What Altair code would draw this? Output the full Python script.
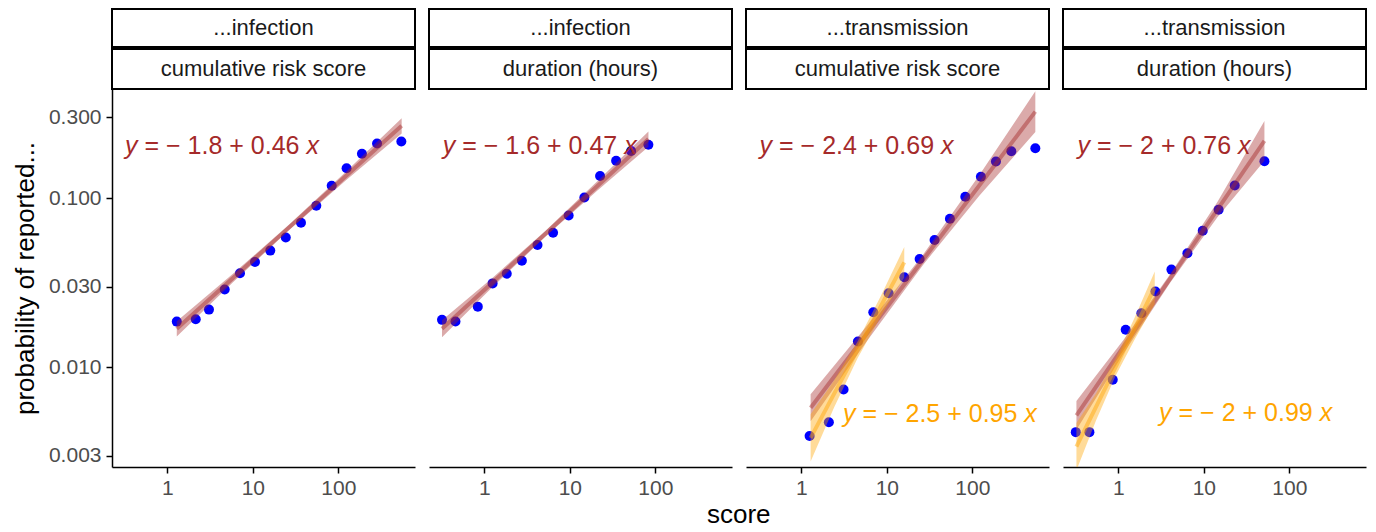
import altair as alt
import pandas as pd

FONT = "Liberation Sans"
BROWN = "#A52A2A"
ORANGE = "#FFA500"
BLUE = "#0000FF"

W = 303
H = 378

# ---- strip labels ----
strip_top = ["...infection", "...infection", "...transmission", "...transmission"]
strip_bottom = ["cumulative risk score", "duration (hours)", "cumulative risk score", "duration (hours)"]

# ---- observed points (score, probability) ----
p1_x = [1.29, 2.15, 3.07, 4.69, 7.08, 10.6, 16.0, 24.3, 36.6, 55.3, 83.7, 125, 189, 284, 546]
p1_y = [0.0186, 0.0192, 0.0219, 0.0288, 0.0359, 0.0419, 0.0489, 0.0585, 0.0714, 0.0901,
        0.1183, 0.150, 0.183, 0.210, 0.216]
p2_x = [0.320, 0.460, 0.839, 1.25, 1.83, 2.75, 4.19, 6.37, 9.7, 14.8, 22.6, 34.8, 52.1, 83.0]
p2_y = [0.01905, 0.01862, 0.0228, 0.0313, 0.0357, 0.0426, 0.0528, 0.0624, 0.0789, 0.1008,
        0.1349, 0.166, 0.190, 0.2065]
p3_x = [1.25, 2.10, 3.12, 4.59, 6.95, 10.5, 16.0, 24.2, 36.2, 54.7, 82.8, 126, 189, 286, 546]
p3_y = [0.00392, 0.00473, 0.00738, 0.01418, 0.02113, 0.02735, 0.03399, 0.04362, 0.05649,
        0.07551, 0.1018, 0.1337, 0.1645, 0.1893, 0.1972]
p4_x = [0.318, 0.459, 0.861, 1.22, 1.86, 2.72, 4.18, 6.43, 9.71, 14.9, 23.0, 51.2]
p4_y = [0.00413, 0.00413, 0.00843, 0.01665, 0.02084, 0.02800, 0.03775, 0.04715, 0.06412,
        0.08533, 0.1186, 0.1652]

# ---- fitted lines with confidence ribbons ----
f1_x = [1.29, 5.86, 26.6, 121, 551]
f1_fit = [0.01687, 0.03365, 0.0671, 0.1340, 0.2673]
f1_lo = [0.01521, 0.03177, 0.0647, 0.1265, 0.2410]
f1_hi = [0.01871, 0.03565, 0.0697, 0.1419, 0.2965]

f2_x = [0.320, 1.29, 5.16, 20.7, 83.1]
f2_fit = [0.01687, 0.03221, 0.06138, 0.1172, 0.2234]
f2_lo = [0.01503, 0.03027, 0.05902, 0.1102, 0.2014]
f2_hi = [0.01892, 0.03428, 0.06383, 0.1247, 0.2477]

f3_x = [1.285, 5.83, 26.5, 120, 546]
f3_fit = [0.005754, 0.01578, 0.04315, 0.1183, 0.3243]
f3_lo = [0.004786, 0.01422, 0.04027, 0.1030, 0.2460]
f3_hi = [0.006918, 0.01750, 0.04624, 0.1358, 0.4276]

g3_x = [1.285, 2.415, 4.53, 8.51, 16.0]
g3_fit = [0.003819, 0.006950, 0.01262, 0.02296, 0.04169]
g3_lo = [0.002767, 0.005781, 0.01125, 0.02000, 0.03388]
g3_hi = [0.005272, 0.008356, 0.01416, 0.02636, 0.05129]

f4_x = [0.3236, 1.148, 4.074, 14.42, 51.17]
f4_fit = [0.005188, 0.01321, 0.03365, 0.08551, 0.2178]
f4_lo = [0.004266, 0.01205, 0.03177, 0.07709, 0.1660]
f4_hi = [0.006310, 0.01449, 0.03565, 0.09484, 0.2858]

g4_x = [0.3236, 0.5483, 0.9290, 1.574, 2.667]
g4_fit = [0.003388, 0.005821, 0.01, 0.01718, 0.02951]
g4_lo = [0.002455, 0.004842, 0.008913, 0.01479, 0.02366]
g4_hi = [0.004677, 0.006998, 0.01122, 0.01995, 0.03681]

# ---- equation labels ----
eq_panel = [0, 1, 2, 2, 3, 3]
eq_color = [BROWN, BROWN, BROWN, ORANGE, BROWN, ORANGE]
eq_x = [0.32, 0.327, 0.325, 3.07, 0.333, 3.0]
eq_y = [0.182, 0.182, 0.182, 0.00473, 0.182, 0.00478]
eq_body = ["= \u2212 1.8 + 0.46", "= \u2212 1.6 + 0.47", "= \u2212 2.4 + 0.69",
           "= \u2212 2.5 + 0.95", "= \u2212 2 + 0.76", "= \u2212 2 + 0.99"]

points = [(p1_x, p1_y), (p2_x, p2_y), (p3_x, p3_y), (p4_x, p4_y)]
fits = [
    [(f1_x, f1_fit, f1_lo, f1_hi, BROWN)],
    [(f2_x, f2_fit, f2_lo, f2_hi, BROWN)],
    [(f3_x, f3_fit, f3_lo, f3_hi, BROWN), (g3_x, g3_fit, g3_lo, g3_hi, ORANGE)],
    [(f4_x, f4_fit, f4_lo, f4_hi, BROWN), (g4_x, g4_fit, g4_lo, g4_hi, ORANGE)],
]

X_DOMAIN = [0.2254, 789]
Y_DOMAIN = [0.00257, 0.4414]
EQ_SIZE = 25

ADV = {c: 0.556 for c in "0123456789"}
ADV.update({".": 0.278, " ": 0.278, "=": 0.584, "+": 0.584, "\u2212": 0.584, "y": 0.5, "x": 0.5})


def tw(s, size):
    return sum(ADV.get(c, 0.556) for c in s) * size


x_axis = alt.Axis(values=[1, 10, 100], format="d", grid=False, labelFontSize=21,
                  labelColor="#4D4D4D", labelFont=FONT, tickColor="black", tickSize=6,
                  tickWidth=1.5, domainColor="black", domainWidth=1.5, labelPadding=4,
                  labelFlush=False)
y_axis = alt.Axis(values=[0.003, 0.01, 0.03, 0.1, 0.3], format=".3f", grid=False,
                  labelFontSize=21, labelColor="#4D4D4D", labelFont=FONT, tickColor="black",
                  tickSize=6, tickWidth=1.5, domainColor="black", domainWidth=1.5,
                  labelPadding=5, titleFontSize=26, titleFont=FONT, titleFontWeight="normal",
                  titleColor="black", titlePadding=10)


def X(field):
    return alt.X(f"{field}:Q", scale=alt.Scale(type="log", domain=X_DOMAIN, nice=False),
                 axis=x_axis, title=None)


def Y(field, show):
    if show:
        return alt.Y(f"{field}:Q", scale=alt.Scale(type="log", domain=Y_DOMAIN, nice=False),
                     axis=y_axis, title="probability of reported...")
    return alt.Y(f"{field}:Q", scale=alt.Scale(type="log", domain=Y_DOMAIN, nice=False),
                 axis=None)


def panel(i):
    show = i == 0
    layers = []
    px, py = points[i]
    layers.append(
        alt.Chart(pd.DataFrame({"x": px, "y": py}))
        .mark_circle(size=100, color=BLUE, opacity=1, clip=True)
        .encode(x=X("x"), y=Y("y", show))
    )
    for fx, ff, flo, fhi, col in fits[i]:
        df = pd.DataFrame({"x": fx, "fit": ff, "lo": flo, "hi": fhi})
        base = alt.Chart(df)
        layers.append(base.mark_area(color=col, opacity=0.4, clip=True)
                      .encode(x=X("x"), y=Y("lo", show), y2="hi:Q"))
        layers.append(base.mark_line(color=col, opacity=0.45, strokeWidth=4, clip=True)
                      .encode(x=X("x"), y=Y("fit", show)))
    for k in range(len(eq_panel)):
        if eq_panel[k] != i:
            continue
        df = pd.DataFrame({"x": [eq_x[k]], "y": [eq_y[k]]})
        body = eq_body[k]
        common = dict(font=FONT, fontSize=EQ_SIZE, color=eq_color[k], align="left",
                      baseline="alphabetic")
        layers.append(alt.Chart(df).mark_text(text="y", fontStyle="italic", **common)
                      .encode(x=X("x"), y=Y("y", show)))
        layers.append(alt.Chart(df).mark_text(text=body, dx=tw("y ", EQ_SIZE), **common)
                      .encode(x=X("x"), y=Y("y", show)))
        layers.append(alt.Chart(df).mark_text(text="x", fontStyle="italic",
                                              dx=tw("y " + body + " ", EQ_SIZE), **common)
                      .encode(x=X("x"), y=Y("y", show)))
    # strips
    sdf = pd.DataFrame({"top": [strip_top[i]], "bottom": [strip_bottom[i]]})
    sbase = alt.Chart(sdf)
    layers.append(sbase.mark_rect(fill="white", stroke="black", strokeWidth=2)
                  .encode(x=alt.value(0), x2=alt.value(W), y=alt.value(-80), y2=alt.value(-42)))
    layers.append(sbase.mark_rect(fill="white", stroke="black", strokeWidth=2)
                  .encode(x=alt.value(0), x2=alt.value(W), y=alt.value(-40), y2=alt.value(0)))
    layers.append(sbase.mark_text(font=FONT, fontSize=22, color="#1A1A1A", align="center",
                                  baseline="middle")
                  .encode(x=alt.value(W / 2), y=alt.value(-61), text="top:N"))
    layers.append(sbase.mark_text(font=FONT, fontSize=22, color="#1A1A1A", align="center",
                                  baseline="middle")
                  .encode(x=alt.value(W / 2), y=alt.value(-20), text="bottom:N"))
    return alt.layer(*layers).properties(width=W, height=H)


chart = (
    alt.hconcat(*[panel(i) for i in range(4)], spacing=12)
    .properties(
        title=alt.TitleParams("score", orient="bottom", anchor="middle", fontSize=26,
                              font=FONT, fontWeight="normal", color="black", offset=4, dx=49),
        padding={"left": 4, "top": 0, "right": 0, "bottom": 0},
    )
    .configure_view(stroke=None)
)

chart.save("out.html", embed_options={"renderer": "svg", "actions": False})
